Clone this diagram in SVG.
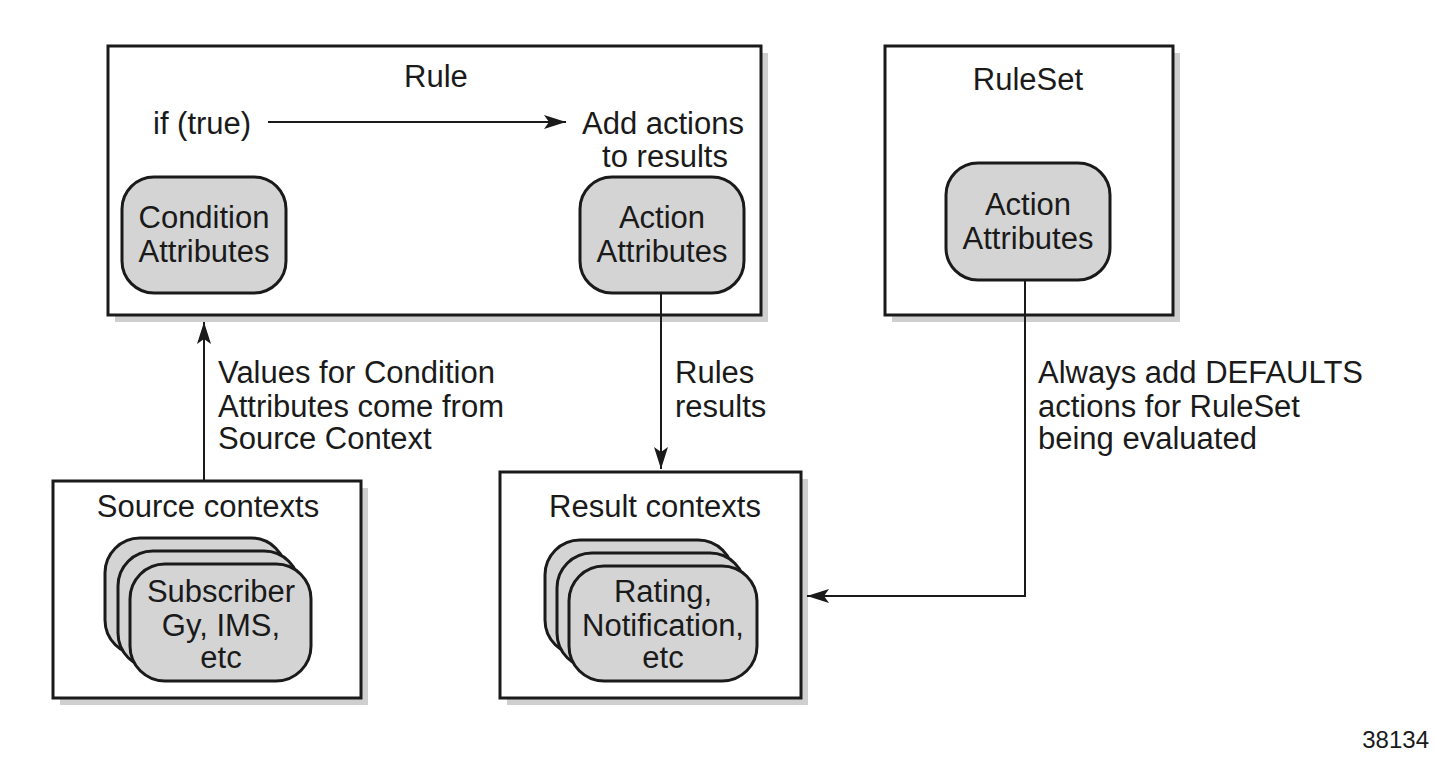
<svg xmlns="http://www.w3.org/2000/svg" width="1435" height="760" viewBox="0 0 1435 760">
<defs>
<style>
text{font-family:"Liberation Sans",Arial,Helvetica,sans-serif;font-size:31px;fill:#1a1a1a}
.box{fill:#fff;stroke:#1a1a1a;stroke-width:3}
.shadow{fill:#cfcfcf}
.pill{fill:#d4d4d4;stroke:#1a1a1a;stroke-width:3}
.mid{text-anchor:middle}
.conn{fill:none;stroke:#1a1a1a;stroke-width:2}
</style>
<marker id="ah" markerUnits="userSpaceOnUse" markerWidth="24" markerHeight="16" refX="22" refY="7" orient="auto">
<path d="M0,0 L22,7 L0,14 L5,7 Z" fill="#1a1a1a"/>
</marker>
</defs>
<rect width="1435" height="760" fill="#fff"/>

<g id="rule">
<rect class="shadow" x="115" y="53" width="653" height="269"/>
<rect class="box" x="108" y="46" width="653" height="269"/>
<text class="mid" x="436" y="87">Rule</text>
<text x="153" y="134">if (true)</text>
<text class="mid" x="663" y="134">Add actions</text>
<text class="mid" x="665" y="167">to results</text>
</g>
<g id="condition-attributes">
<rect class="pill" x="122" y="177" width="164" height="116" rx="32"/>
<text class="mid" x="204" y="228">Condition</text>
<text class="mid" x="204" y="262">Attributes</text>
</g>
<g id="rule-action-attributes">
<rect class="pill" x="580" y="177" width="164" height="116" rx="32"/>
<text class="mid" x="662" y="228">Action</text>
<text class="mid" x="662" y="262">Attributes</text>
</g>

<g id="ruleset">
<rect class="shadow" x="892" y="53" width="288" height="269"/>
<rect class="box" x="885" y="46" width="288" height="269"/>
<text class="mid" x="1028" y="90">RuleSet</text>
</g>
<g id="ruleset-action-attributes">
<rect class="pill" x="946" y="163" width="164" height="117" rx="32"/>
<text class="mid" x="1028" y="215">Action</text>
<text class="mid" x="1028" y="249">Attributes</text>
</g>

<g id="source-contexts">
<rect class="shadow" x="60" y="488" width="308" height="217"/>
<rect class="box" x="53" y="481" width="308" height="217"/>
<text class="mid" x="208" y="517">Source contexts</text>
<rect class="pill" x="105" y="538" width="181" height="117" rx="35"/>
<rect class="pill" x="118" y="551" width="181" height="117" rx="35"/>
<rect class="pill" x="130" y="564" width="181" height="117" rx="35"/>
<text class="mid" x="221" y="602">Subscriber</text>
<text class="mid" x="221" y="636">Gy, IMS,</text>
<text class="mid" x="221" y="668">etc</text>
</g>

<g id="result-contexts">
<rect class="shadow" x="507" y="479" width="301" height="226"/>
<rect class="box" x="500" y="472" width="301" height="226"/>
<text class="mid" x="655" y="517">Result contexts</text>
<rect class="pill" x="545" y="540" width="188" height="115" rx="35"/>
<rect class="pill" x="557" y="553" width="188" height="115" rx="35"/>
<rect class="pill" x="569" y="566" width="188" height="115" rx="35"/>
<text class="mid" x="663" y="602">Rating,</text>
<text class="mid" x="663" y="636">Notification,</text>
<text class="mid" x="663" y="668">etc</text>
</g>

<g id="connectors">
<line class="conn" x1="268" y1="122" x2="566" y2="122" marker-end="url(#ah)"/>
<line class="conn" x1="204" y1="481" x2="204" y2="322" marker-end="url(#ah)"/>
<line class="conn" x1="661" y1="293" x2="661" y2="469" marker-end="url(#ah)"/>
<polyline class="conn" points="1025,280 1025,596 807,596" marker-end="url(#ah)"/>
</g>

<g id="labels">
<text x="218" y="383">Values for Condition</text>
<text x="218" y="417">Attributes come from</text>
<text x="218" y="449">Source Context</text>
<text x="675" y="383">Rules</text>
<text x="675" y="417">results</text>
<text x="1038" y="383">Always add DEFAULTS</text>
<text x="1038" y="417">actions for RuleSet</text>
<text x="1038" y="449">being evaluated</text>
<text x="1429" y="748" style="font-size:24px;text-anchor:end">38134</text>
</g>
</svg>
